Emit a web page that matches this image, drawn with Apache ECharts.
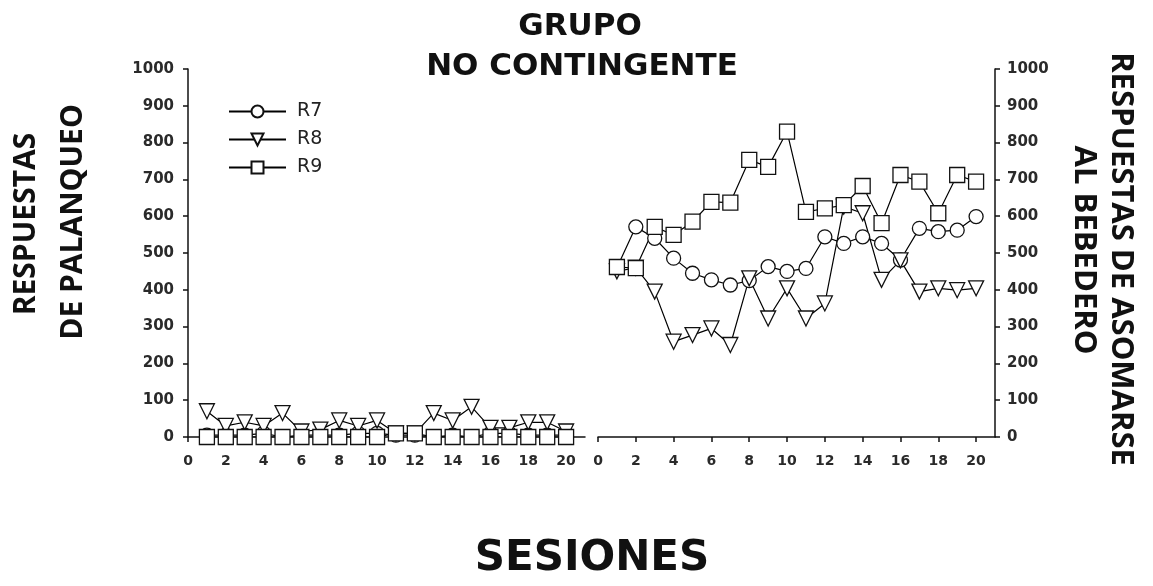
<!DOCTYPE html>
<html>
<head>
<meta charset="utf-8">
<style>
  html, body { margin: 0; padding: 0; background: #fff; }
  #chart { width: 1153px; height: 586px; }
</style>
<script src="https://cdn.jsdelivr.net/npm/echarts@6/dist/echarts.min.js"></script>
</head>
<body>
<div id="chart"></div>
<script>
// sesiones 1..20 in both phases
const sessions = [1, 2, 3, 4, 5, 6, 7, 8, 9, 10, 11, 12, 13, 14, 15, 16, 17, 18, 19, 20]
const yTicks = [0, 100, 200, 300, 400, 500, 600, 700, 800, 900, 1000]

// left panel: respuestas de palanqueo
const r7Lever = [5, 5, 5, 10, 0, 5, 5, 5, 10, 10, 5, 5, 0, 5, 0, 10, 10, 5, 5, 5]
const r8Lever = [70, 30, 40, 30, 65, 15, 20, 45, 30, 45, 10, 10, 65, 45, 82, 25, 25, 40, 40, 15]
const r9Lever = [0, 0, 0, 0, 0, 0, 0, 0, 0, 0, 10, 10, 0, 0, 0, 0, 0, 0, 0, 0]

// right panel: respuestas de asomarse al bebedero
const r7Drink = [460, 571, 540, 486, 445, 427, 413, 425, 463, 450, 458, 544, 526, 544, 526, 481, 567, 558, 562, 599]
const r8Drink = [450, 460, 395, 259, 277, 295, 250, 431, 322, 404, 322, 363, 626, 608, 427, 480, 395, 404, 399, 404]
const r9Drink = [462, 459, 571, 549, 585, 639, 637, 753, 734, 830, 612, 621, 630, 682, 581, 712, 694, 608, 712, 694]

const FONT = 'DejaVu Sans'
const TITLE_FONT = 'Open Sans'

const pairs = vals => sessions.map((s, i) => [s, vals[i]])

const markers = {
    R7: { symbol: 'circle', symbolSize: 14, symbolRotate: 0 },
    R8: { symbol: 'triangle', symbolSize: 15, symbolRotate: 180 },
    R9: { symbol: 'rect', symbolSize: 15, symbolRotate: 0 },
}

function makeSeries(name, vals, idx) {
    const m = markers[name]
    return {
        name: name,
        type: 'line',
        xAxisIndex: idx,
        yAxisIndex: idx,
        data: pairs(vals),
        symbol: m.symbol,
        symbolSize: m.symbolSize,
        symbolRotate: m.symbolRotate,
        showAllSymbol: true,
        animation: false,
        lineStyle: { color: '#000', width: 1.2 },
        itemStyle: { color: '#fff', borderColor: '#111', borderWidth: 1.3 },
        emphasis: { disabled: true },
    }
}

function xAxis(idx) {
    return {
        type: 'value',
        gridIndex: idx,
        min: 0,
        max: 21,
        interval: 2,
        splitLine: { show: false },
        axisLine: { onZero: false, lineStyle: { color: '#111', width: 1.5 } },
        axisTick: { length: 5, lineStyle: { color: '#111', width: 1.5 } },
        axisLabel: {
            margin: 17,
            color: '#2a2a2a',
            fontFamily: FONT,
            fontWeight: 'bold',
            fontSize: 14,
            showMaxLabel: false,
            formatter: v => (v <= 20 ? String(v) : ''),
        },
    }
}

function yAxis(idx, pos) {
    return {
        type: 'value',
        gridIndex: idx,
        position: pos,
        min: yTicks[0],
        max: yTicks[yTicks.length - 1],
        interval: 100,
        splitLine: { show: false },
        axisLine: { show: true, onZero: false, lineStyle: { color: '#111', width: 1.5 } },
        axisTick: { show: true, length: 5, lineStyle: { color: '#111', width: 1.5 } },
        axisLabel: {
            margin: pos === 'left' ? 14 : 12,
            color: '#2a2a2a',
            fontFamily: FONT,
            fontWeight: 'bold',
            fontSize: 15,
            formatter: v => String(v),
        },
    }
}

const chart = echarts.init(document.getElementById('chart'))

const option = {
    backgroundColor: '#fff',
    animation: false,
    grid: [
        { left: 188, top: 69, width: 397, height: 368 },
        { left: 598, top: 69, width: 397, height: 368 },
    ],
    xAxis: [xAxis(0), xAxis(1)],
    yAxis: [yAxis(0, 'left'), yAxis(1, 'right')],
    legend: {
        data: ['R7', 'R8', 'R9'],
        orient: 'vertical',
        left: 223,
        top: 97,
        itemWidth: 57,
        itemHeight: 15,
        itemGap: 9,
        selectedMode: false,
        textStyle: {
            fontFamily: FONT,
            fontSize: 19,
            color: '#222',
            padding: [0, 0, 0, 6],
        },
    },
    series: [
        makeSeries('R7', r7Lever, 0),
        makeSeries('R8', r8Lever, 0),
        makeSeries('R9', r9Lever, 0),
        makeSeries('R7', r7Drink, 1),
        makeSeries('R8', r8Drink, 1),
        makeSeries('R9', r9Drink, 1),
    ],
    graphic: [
        {
            type: 'text', x: 580, y: 27,
            style: { text: 'GRUPO', font: 'bold 31px "DejaVu Sans"', fill: '#111', align: 'center', verticalAlign: 'middle' },
        },
        {
            type: 'text', x: 582, y: 67,
            style: { text: 'NO CONTINGENTE', font: 'bold 31px "DejaVu Sans"', fill: '#111', align: 'center', verticalAlign: 'middle' },
        },
        {
            type: 'text', x: 592, y: 559,
            style: { text: 'SESIONES', font: 'bold 42px "DejaVu Sans"', fill: '#111', align: 'center', verticalAlign: 'middle' },
        },
        {
            type: 'text', x: 26, y: 224, rotation: Math.PI / 2,
            style: { text: 'RESPUESTAS', font: 'bold 30px "' + TITLE_FONT + '"', fill: '#111', align: 'center', verticalAlign: 'middle' },
        },
        {
            type: 'text', x: 73, y: 222, rotation: Math.PI / 2,
            style: { text: 'DE PALANQUEO', font: 'bold 30px "' + TITLE_FONT + '"', fill: '#111', align: 'center', verticalAlign: 'middle' },
        },
        {
            type: 'text', x: 1121, y: 259, rotation: -Math.PI / 2,
            style: { text: 'RESPUESTAS DE ASOMARSE', font: 'bold 31px "' + TITLE_FONT + '"', fill: '#111', align: 'center', verticalAlign: 'middle' },
        },
        {
            type: 'text', x: 1084, y: 250, rotation: -Math.PI / 2,
            style: { text: 'AL BEBEDERO', font: 'bold 31px "' + TITLE_FONT + '"', fill: '#111', align: 'center', verticalAlign: 'middle' },
        },
    ],
}

chart.setOption(option)
</script>
</body>
</html>
